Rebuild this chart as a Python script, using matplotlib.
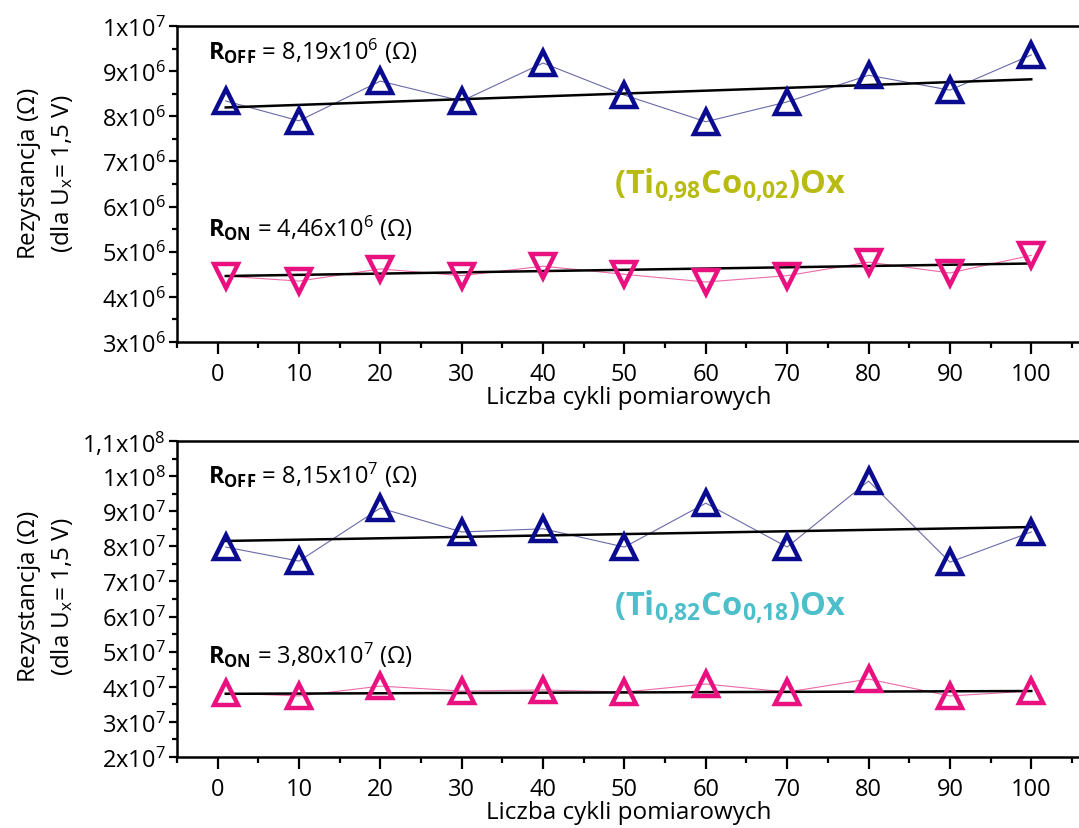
import matplotlib.pyplot as plt
import numpy as np
from matplotlib.ticker import MultipleLocator, FuncFormatter

plt.rcParams['font.family'] = ['Open Sans', 'DejaVu Sans']
plt.rcParams['mathtext.fontset'] = 'custom'
plt.rcParams['mathtext.rm'] = 'Open Sans'
plt.rcParams['mathtext.it'] = 'Open Sans:italic'
plt.rcParams['mathtext.bf'] = 'Open Sans:bold'

cycles = [1, 10, 20, 30, 40, 50, 60, 70, 80, 90, 100]

# (Ti0,98Co0,02)Ox
off1 = [8.34e6, 7.90e6, 8.78e6, 8.34e6, 9.18e6, 8.47e6, 7.88e6, 8.32e6, 8.91e6, 8.58e6, 9.36e6]
on1 = [4.46e6, 4.35e6, 4.62e6, 4.47e6, 4.68e6, 4.50e6, 4.33e6, 4.47e6, 4.77e6, 4.53e6, 4.92e6]
# (Ti0,82Co0,18)Ox
off2 = [7.98e7, 7.58e7, 9.09e7, 8.41e7, 8.50e7, 7.98e7, 9.23e7, 7.98e7, 9.86e7, 7.55e7, 8.41e7]
on2 = [3.82e7, 3.74e7, 4.02e7, 3.88e7, 3.91e7, 3.85e7, 4.08e7, 3.85e7, 4.22e7, 3.74e7, 3.88e7]

# linear fits (intercept, slope) as shown in the figure
fit_off1 = (8.19e6, 6.3e3)
fit_on1 = (4.46e6, 2.8e3)
fit_off2 = (8.15e7, 4.0e4)
fit_on2 = (3.80e7, 8.0e3)

blue = '#0b0b8f'
blue_ln = '#6a6aa8'
pink = '#e8117f'
pink_ln = '#ec6aa8'

fig = plt.figure(figsize=(10.79, 8.29), dpi=100)
ax1 = fig.add_axes([0.164, 0.5862, 0.837, 0.3812])
ax2 = fig.add_axes([0.164, 0.0856, 0.837, 0.3812])


def sci(v, pos):
    if v == 0:
        return '0'
    e = int(np.floor(np.log10(abs(v)) + 1e-9))
    m = v / 10 ** e
    ms = ('%.1f' % m).rstrip('0').rstrip('.').replace('.', ',')
    return r'%sx10$^{%d}$' % (ms, e)


def draw(ax, off, on, fits, on_marker, ylim, major, minor, col_txt, formula, off_lbl, on_lbl,
         ytxt_off, ytxt_on, yform, ylab_y):
    x = np.array(cycles)
    ax.plot(x, off, color=blue_ln, lw=0.8, zorder=2)
    ax.plot(x, on, color=pink_ln, lw=0.8, zorder=2)
    for b, k in fits:
        xe = np.array([x[0], x[-1]])
        ax.plot(xe, b + k * xe, color='black', lw=1.8, zorder=3)
    ax.plot(x, off, ls='none', marker='^', ms=17, mfc='none', mec=blue, mew=3.2, zorder=4)
    ax.plot(x, on, ls='none', marker=on_marker, ms=17, mfc='none', mec=pink, mew=3.2, zorder=4)
    ax.set_xlim(-5, 106)
    ax.set_ylim(*ylim)
    ax.xaxis.set_major_locator(MultipleLocator(10))
    ax.xaxis.set_minor_locator(MultipleLocator(5))
    ax.yaxis.set_major_locator(MultipleLocator(major))
    ax.yaxis.set_minor_locator(MultipleLocator(minor))
    ax.yaxis.set_major_formatter(FuncFormatter(sci))
    ax.tick_params(axis='x', which='major', direction='out', length=8.5, width=1.6, labelsize=17, pad=6)
    ax.tick_params(axis='x', which='minor', direction='out', length=4, width=1.6)
    ax.tick_params(axis='y', which='major', direction='out', length=6, width=1.6, labelsize=17, pad=2)
    ax.tick_params(axis='y', which='minor', direction='out', length=3.5, width=1.6)
    for sp in ('left', 'bottom', 'top'):
        ax.spines[sp].set_linewidth(1.8)
    ax.spines['right'].set_visible(False)
    ax.set_xlabel('Liczba cykli pomiarowych', fontsize=17.5, labelpad=-1)
    ax.set_ylabel('Rezystancja ($\\Omega$)\n(dla U$_{\\mathrm{x}}$= 1,5 V)', fontsize=17.5,
                  linespacing=1.3)
    ax.yaxis.set_label_coords(-0.113, ylab_y)
    ax.text(-1.2, ytxt_off, r'$\mathbf{R_{OFF}}$' + ' = ' + off_lbl + r' ($\Omega$)', fontsize=17,
            va='center', ha='left')
    ax.text(-1.2, ytxt_on, r'$\mathbf{R_{ON}}$' + ' = ' + on_lbl + r' ($\Omega$)', fontsize=17,
            va='center', ha='left')
    ax.text(63, yform, formula, fontsize=23.5, color=col_txt, ha='center', va='center')


draw(ax1, off1, on1, (fit_off1, fit_on1), 'v', (3e6, 1e7), 1e6, 5e5, '#b8bb12',
     r'$\mathbf{(Ti_{0{,}98}Co_{0{,}02})Ox}$', r'8,19x10$^{6}$', r'4,46x10$^{6}$', 9.45e6, 5.55e6, 6.5e6, 0.535)
draw(ax2, off2, on2, (fit_off2, fit_on2), '^', (2e7, 1.1e8), 1e7, 5e6, '#4cbfca',
     r'$\mathbf{(Ti_{0{,}82}Co_{0{,}18})Ox}$', r'8,15x10$^{7}$', r'3,80x10$^{7}$', 1.005e8, 4.93e7, 6.3e7, 0.51)

fig.savefig('out.png', dpi=100)
